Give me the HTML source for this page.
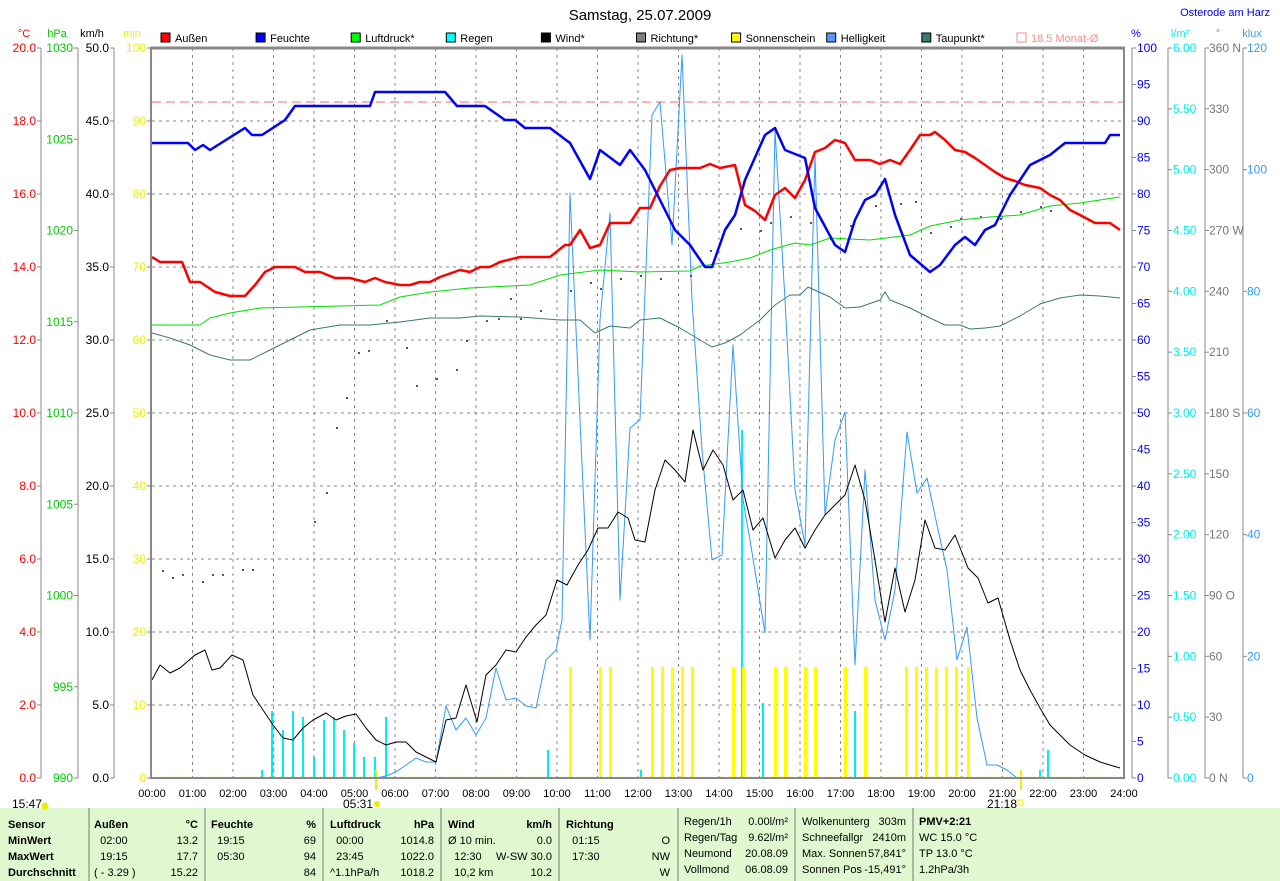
<!DOCTYPE html>
<html><head><meta charset="utf-8"><style>
body{margin:0;background:#fff;width:1280px;height:881px;overflow:hidden;font-family:"Liberation Sans",sans-serif}
svg text{font-family:"Liberation Sans",sans-serif}
</style></head><body>
<svg id="s" width="1280" height="881" xmlns="http://www.w3.org/2000/svg" style="position:absolute;left:0;top:0">
<rect x="0" y="808" width="1280" height="73" fill="#e0f8d0"/>
<text x="640" y="20" font-size="15" text-anchor="middle" fill="#000">Samstag, 25.07.2009</text>
<text x="1270" y="16" font-size="11" text-anchor="end" fill="#0000ff">Osterode am Harz</text>
<g id="g"></g>
</svg>
<script>
var g=document.getElementById('g'),h='';
function X(t){return 152+t*40.5}
function L(x1,y1,x2,y2,c,w,d){h+='<line x1="'+x1+'" y1="'+y1+'" x2="'+x2+'" y2="'+y2+'" stroke="'+c+'" stroke-width="'+(w||1)+'"'+(d?' stroke-dasharray="'+d+'"':'')+'/>'}
function T(x,y,s,c,a,fs,b){h+='<text x="'+x+'" y="'+y+'" fill="'+c+'" font-size="'+(fs||11)+'" text-anchor="'+(a||'start')+'"'+(b?' font-weight="bold"':'')+'>'+s+'</text>'}
function P(p,c,w){h+='<polyline fill="none" stroke="'+c+'" stroke-width="'+w+'" stroke-linejoin="round" points="'+p+'"/>'}
for(var k=1;k<10;k++)L(152,48+73*k,1124,48+73*k,'#888',1,'3,4');
for(var k=1;k<24;k++)L(X(k),48,X(k),778,'#888',1,'3,4');
var ax=[[41,'#f00',10,function(i){return (20-2*i).toFixed(1)},'°C',24],[78,'#0c0',8,function(i){return 1030-5*i},'hPa',57],[114,'#000',10,function(i){return (50-5*i).toFixed(1)},'km/h',92],[151,'#ee0',10,function(i){return 100-10*i},'min',132]];
ax.forEach(function(a,j){ if(j<3)L(a[0],48,a[0],778,'#888');T(a[5],37,a[4],a[1],'middle',11);
 for(var i=0;i<=a[2];i++){var y=48+730/a[2]*i;L(a[0]-4,y,a[0],y,'#888');T(a[0]-5,y+4,a[3](i),a[1],'end',12);}});
L(1132,48,1132,778,'#888');L(1168,48,1168,778,'#888');L(1205,48,1205,778,'#888');L(1243,48,1243,778,'#888');
T(1136,37,'%','#00f','middle',11);T(1180,37,'l/m²','#0ee','middle',11);T(1218,37,'°','#888','middle',11);T(1252,37,'klux','#39f','middle',11);
for(var i=0;i<=20;i++){var y=48+36.5*i;L(1132,y,1136,y,'#888');T(1137,y+4,100-5*i,'#00f','start',12);}
var dn={0:' N',3:' W',6:' S',9:' O',12:' N'};
for(var i=0;i<=12;i++){var y=48+730/12*i;L(1168,y,1172,y,'#888');T(1173,y+4,(6-0.5*i).toFixed(2),'#0ee','start',12);L(1205,y,1209,y,'#888');T(1209,y+4,(360-30*i)+(dn[i]||''),'#777','start',12);}
for(var i=0;i<=6;i++){var y=48+730/6*i;L(1243,y,1247,y,'#888');T(1247,y+4,120-20*i,'#39f','start',12);}
for(var k=0;k<=24;k++)T(X(k),797,(k<10?'0':'')+k+':00','#000','middle',11);
var lg=[['Außen','#f00'],['Feuchte','#00f'],['Luftdruck*','#0f0'],['Regen','#0ff'],['Wind*','#000'],['Richtung*','#808080'],['Sonnenschein','#ff0'],['Helligkeit','#59f'],['Taupunkt*','#3a7a70']];
lg.forEach(function(l,i){var x=161+95.1*i;h+='<rect x="'+x+'" y="33" width="9" height="9" fill="'+l[1]+'" stroke="#000" stroke-width="1"/>';T(x+14,42,l[0],'#000','start',11);});
h+='<rect x="1017" y="33" width="9" height="9" fill="none" stroke="#f88"/>';T(1031,42,'18.5 Monat-Ø','#f88','start',11);
L(152,102,1124,102,'#f66',1,'9,5');
[[262,770],[272,711],[283,730],[293,711],[303,717],[314,757],[324,720],[334,717],[344,730],[354,743],[364,757],[375,757],[386,717],[548,750],[641,770],[742,430],[763,703],[855,711],[865,765],[1040,770],[1048,750]].forEach(function(b){h+='<rect x="'+(b[0]-1)+'" y="'+b[1]+'" width="2" height="'+(778-b[1])+'" fill="#0ee"/>'});
[570,600,610,652,662,672,682,692,733,743,775,785,805,815,845,865,906,916,926,936,946,956,968].forEach(function(x){h+='<rect x="'+(x-1)+'" y="667" width="3" height="111" fill="#ff0"/>'});
for(var x=160;x<1124;x+=10)L(x,777,x+1,777,'#dd0');
L(376,770,376,790,'#ee0',2);L(1021,770,1021,790,'#ee0',2);
P('376,778 386,776 396,772 406,765 416,758 426,762 436,762 446,706 456,730 466,718 476,735 486,718 496,668 506,700 516,698 526,706 536,708 546,660 556,650 562,620 570,193 580,420 590,640 600,320 610,213 620,600 630,428 640,420 652,115 660,102 672,245 682,55 692,300 702,450 712,560 722,555 733,345 743,500 750,540 765,633 775,130 785,300 795,490 805,545 815,155 825,515 835,440 845,412 855,665 865,470 875,600 885,640 895,590 907,432 917,493 927,478 937,525 947,570 957,660 967,627 977,718 987,765 997,765 1007,770 1017,778','#3399ff',1);
[[162,570],[172,577],[182,574],[202,581],[212,574],[222,574],[242,569],[252,569],[314,521],[326,492],[336,427],[346,397],[358,352],[368,350],[386,320],[406,347],[416,385],[436,378],[456,369],[466,340],[486,320],[498,318],[510,298],[520,318],[540,310],[570,290],[590,282],[600,288],[620,278],[640,275],[660,278],[690,275],[710,250],[740,228],[760,230],[770,222],[790,216],[810,222],[830,238],[850,225],[875,205],[900,203],[915,201],[930,232],[950,226],[960,218],[980,216],[1000,218],[1020,211],[1040,206],[1050,210]].forEach(function(p){h+='<rect x="'+p[0]+'" y="'+p[1]+'" width="2" height="2" fill="#555"/>'});
P('152,325 200,325 210,318 230,313 260,308 300,307 380,305 400,297 430,292 470,288 530,285 560,275 600,270 640,272 690,271 700,266 730,262 750,258 770,250 795,243 810,245 830,238 870,240 910,235 930,226 960,220 990,217 1020,215 1050,206 1080,203 1120,197','#00dd00',1);
P('152,333 170,338 190,345 210,355 230,360 250,360 270,350 290,340 310,330 340,325 370,325 400,322 430,318 460,318 480,316 520,317 560,320 580,320 595,333 610,326 630,328 640,320 660,318 680,328 700,340 712,347 725,343 740,335 760,320 775,305 790,295 800,295 808,287 830,297 845,308 860,307 880,300 885,292 890,300 910,308 930,318 945,325 960,325 970,329 985,328 1000,326 1020,316 1040,304 1060,298 1080,295 1100,296 1120,298','#3a7a70',1);
P('152,680 160,665 170,673 180,668 195,655 205,650 212,670 220,668 232,655 243,660 253,695 263,710 273,725 283,738 293,740 303,728 313,720 326,713 336,720 346,716 356,714 366,728 376,740 386,745 396,742 406,742 416,752 426,757 436,762 446,720 456,718 466,685 477,722 486,675 496,665 506,650 516,652 526,637 536,625 546,615 557,580 567,585 578,565 588,550 598,528 608,528 618,512 628,518 635,540 645,542 655,490 665,460 675,470 685,482 693,430 703,470 713,450 723,465 733,500 743,490 753,530 763,518 775,558 785,540 795,528 805,548 815,530 825,515 835,505 845,495 855,465 865,500 875,560 885,622 895,568 905,612 915,580 925,520 935,548 945,550 955,535 968,568 978,578 988,603 998,598 1010,640 1020,670 1030,690 1040,708 1050,725 1060,735 1070,745 1085,755 1100,762 1120,768','#000',1);
P('152,257 160,262 182,262 190,282 200,282 215,292 230,296 245,296 255,285 265,272 275,267 295,267 305,272 320,272 335,278 350,278 365,282 375,278 385,282 400,285 410,285 420,282 430,282 440,277 460,270 470,272 480,267 490,267 500,262 520,257 550,257 565,245 570,245 580,230 590,248 600,245 610,223 630,223 640,208 650,208 660,186 670,170 680,168 700,168 710,164 720,168 735,165 745,205 755,211 765,220 775,195 785,188 795,198 805,180 815,152 825,148 835,140 845,143 855,160 870,160 880,164 890,160 900,164 910,150 920,135 930,135 935,132 945,140 955,150 965,152 975,158 985,165 995,172 1005,178 1015,181 1025,185 1040,188 1050,195 1060,200 1070,210 1080,215 1095,223 1110,223 1120,230','#f00',2.5);
P('152,143 188,143 195,150 203,145 210,150 245,128 252,135 262,135 285,120 295,106 370,106 375,92 445,92 457,106 485,106 505,120 515,120 525,128 550,128 570,143 590,179 600,150 620,165 630,150 645,170 660,200 675,230 690,245 705,267 712,267 725,230 735,215 745,180 765,135 775,128 785,150 805,158 815,208 835,245 845,252 855,220 865,200 875,195 885,179 895,215 910,255 930,272 940,265 955,245 965,237 975,245 985,230 995,225 1010,195 1030,165 1050,155 1065,143 1105,143 1110,135 1120,135','#0000ff',2.5);
L(151,48,1125,48,'#888',3);L(151,47,151,779,'#888',2);L(1124,47,1124,779,'#888',2);L(151,778,1125,778,'#888',2);
T(12,808,'15:47','#000','start',12);h+='<circle cx="45" cy="806" r="3.5" fill="#ee0"/>';
T(343,808,'05:31','#000','start',12);h+='<circle cx="377" cy="804" r="3" fill="#ee0"/>';
T(987,808,'21:18','#000','start',12);h+='<rect x="1018" y="800" width="5" height="5" fill="none" stroke="#ee0"/>';
[89,205,323,441,559,678,795,913].forEach(function(x){L(x,808,x,881,'#777',1)});
var ry=[828,844,860,876];
['Sensor','MinWert','MaxWert','Durchschnitt'].forEach(function(s,i){T(8,ry[i],s,'#000','start',11,1)});
function C(x1,x2,rows){rows.forEach(function(r,i){if(r[0])T(x1,ry[i],r[0],'#000','start',11,i==0);if(r[1])T(x2,ry[i],r[1],'#000','end',11,i==0)})}
C(94,198,[['Außen','°C'],['  02:00','13.2'],['  19:15','17.7'],['( - 3.29 )','15.22']]);
C(211,316,[['Feuchte','%'],['  19:15','69'],['  05:30','94'],['','84']]);
C(330,434,[['Luftdruck','hPa'],['  00:00','1014.8'],['  23:45','1022.0'],['^1.1hPa/h','1018.2']]);
C(448,552,[['Wind','km/h'],['Ø 10 min.','0.0'],['  12:30','W-SW 30.0'],['  10,2 km','10.2']]);
C(566,670,[['Richtung',''],['  01:15','O'],['  17:30','NW'],['','W']]);
h=h.replace(/>  /g,'>\u00a0\u00a0');
var sm=function(x1,x2,rows){rows.forEach(function(r,i){T(x1,ry[i]-3,r[0],'#000','start',11);T(x2,ry[i]-3,r[1],'#000','end',11)})};
sm(684,788,[['Regen/1h','0.00l/m²'],['Regen/Tag','9.62l/m²'],['Neumond','20.08.09'],['Vollmond','06.08.09']]);
sm(802,906,[['Wolkenunterg','303m'],['Schneefallgr','2410m'],['Max. Sonnen','57,841°'],['Sonnen Pos','-15,491°']]);
T(919,ry[0]-3,'PMV+2:21','#000','start',11,1);T(919,ry[1]-3,'WC 15.0 °C','#000','start',11);T(919,ry[2]-3,'TP 13.0 °C','#000','start',11);T(919,ry[3]-3,'1.2hPa/3h','#000','start',11);
g.innerHTML=h;
</script>
</body></html>
